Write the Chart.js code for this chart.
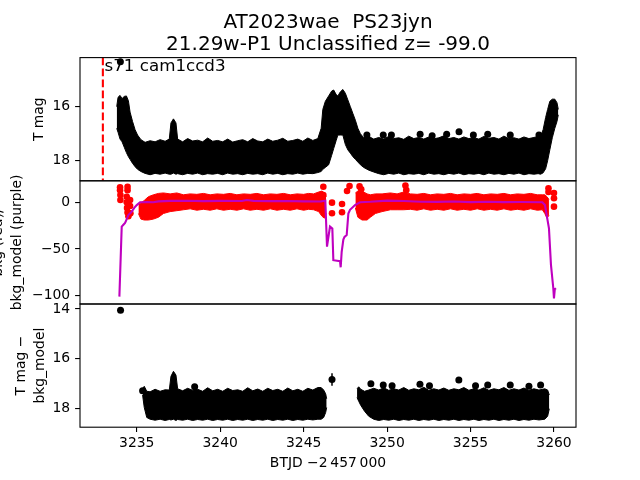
<!DOCTYPE html>
<html>
<head>
<meta charset="utf-8">
<script src="https://cdn.jsdelivr.net/npm/chart.js@4.4.1/dist/chart.umd.min.js"></script>
<style>
    html, body { margin: 0; padding: 0; background: #fff; }
    #wrap { position: relative; width: 640px; height: 480px; overflow: hidden; }
    canvas { position: absolute; left: 0; }
</style>
</head>
<body>
<div id="wrap">
    <canvas id="magChart" width="640" height="200" style="top:0; width:640px; height:200px"></canvas>
    <canvas id="bkgChart" width="640" height="164" style="top:160px; width:640px; height:164px"></canvas>
    <canvas id="subChart" width="640" height="196" style="top:284px; width:640px; height:196px"></canvas>
</div>
<script>
const titleLines = ["AT2023wae  PS23jyn", "21.29w-P1 Unclassified z= -99.0"];
const sectorLabel = "s71 cam1ccd3";
const markDay = 3232.97; // red dashed line, first data time

const xTicks = [3235, 3240, 3245, 3250, 3255, 3260];
const magTicks = [16, 18];
const bkgTicks = [-100, -50, 0];
const subTicks = [14, 16, 18];

// top panel: T mag, upper/lower edge of the black point cloud
const magDays = [3233.80, 3233.88, 3234.00, 3234.12, 3234.25, 3234.38, 3234.50, 3234.60, 3234.75, 3234.90,
    3235.05, 3235.25, 3235.50, 3235.80, 3236.10, 3236.40, 3236.70, 3236.95, 3237.05, 3237.20,
    3237.35, 3237.45, 3237.75, 3238.05, 3238.35, 3238.65, 3238.95, 3239.25, 3239.55, 3239.85,
    3240.15, 3240.45, 3240.75, 3241.05, 3241.35, 3241.65, 3241.95, 3242.25, 3242.55, 3242.85,
    3243.15, 3243.45, 3243.75, 3244.05, 3244.35, 3244.65, 3244.95, 3245.25, 3245.55, 3245.85,
    3246.05, 3246.15, 3246.30, 3246.50, 3246.68, 3246.80, 3246.95, 3247.05, 3247.20, 3247.35,
    3247.50, 3247.65, 3247.80, 3247.95, 3248.10, 3248.25, 3248.40, 3248.60, 3248.90, 3249.20,
    3249.50, 3249.80, 3250.10, 3250.40, 3250.70, 3251.00, 3251.30, 3251.60, 3251.90, 3252.20,
    3252.50, 3252.80, 3253.10, 3253.40, 3253.70, 3254.00, 3254.30, 3254.60, 3254.90, 3255.20,
    3255.50, 3255.80, 3256.10, 3256.40, 3256.70, 3257.00, 3257.30, 3257.60, 3257.90, 3258.20,
    3258.50, 3258.80, 3259.05, 3259.20, 3259.35, 3259.50, 3259.62, 3259.75, 3259.90, 3260.05,
    3260.18, 3260.26];
const magTop = [16.00, 15.65, 15.58, 15.70, 15.62, 15.60, 15.78, 16.20, 16.55, 16.85,
    17.05, 17.22, 17.32, 17.26, 17.30, 17.22, 17.28, 17.20, 16.60, 16.45,
    16.60, 17.20, 17.30, 17.18, 17.27, 17.24, 17.30, 17.16, 17.28, 17.25,
    17.30, 17.20, 17.31, 17.26, 17.22, 17.30, 17.18, 17.27, 17.30, 17.20,
    17.28, 17.24, 17.17, 17.28, 17.25, 17.20, 17.28, 17.16, 17.25, 17.18,
    16.80, 16.10, 15.80, 15.60, 15.42, 15.38, 15.55, 15.60, 15.45, 15.36,
    15.50, 15.75, 16.00, 16.25, 16.50, 16.80, 17.00, 17.15, 17.10, 17.20,
    17.14, 17.20, 17.10, 17.18, 17.15, 17.21, 17.09, 17.18, 17.14, 17.20,
    17.12, 17.19, 17.15, 17.08, 17.18, 17.14, 17.20, 17.12, 17.18, 17.15,
    17.20, 17.10, 17.17, 17.14, 17.20, 17.09, 17.18, 17.15, 17.20, 17.12,
    17.18, 17.14, 17.10, 17.10, 16.85, 16.40, 16.10, 15.80, 15.72, 15.72,
    15.85, 16.10];
const magBottom = [16.80, 16.95, 17.20, 17.30, 17.50, 17.70, 17.85, 17.95, 18.10, 18.22,
    18.32, 18.40, 18.47, 18.52, 18.47, 18.50, 18.46, 18.50, 18.50, 18.46,
    18.50, 18.48, 18.52, 18.47, 18.50, 18.46, 18.52, 18.48, 18.50, 18.47,
    18.52, 18.46, 18.50, 18.48, 18.52, 18.47, 18.50, 18.48, 18.52, 18.46,
    18.50, 18.47, 18.52, 18.48, 18.50, 18.46, 18.50, 18.47, 18.48, 18.44,
    18.40, 18.32, 18.25, 18.15, 17.80, 17.55, 17.25, 17.05, 17.05, 17.05,
    17.40, 17.60, 17.72, 17.85, 17.95, 18.05, 18.15, 18.25, 18.35, 18.42,
    18.48, 18.52, 18.47, 18.50, 18.46, 18.52, 18.48, 18.50, 18.47, 18.52,
    18.46, 18.50, 18.48, 18.52, 18.47, 18.50, 18.46, 18.52, 18.48, 18.50,
    18.47, 18.52, 18.46, 18.50, 18.48, 18.52, 18.47, 18.50, 18.46, 18.52,
    18.48, 18.50, 18.48, 18.50, 18.45, 18.30, 18.00, 17.60, 17.15, 16.80,
    16.55, 16.30];
const magDotDays = [3234.02, 3248.79, 3249.77, 3250.26, 3251.98, 3252.70, 3253.57, 3254.31, 3255.17, 3256.03, 3257.38, 3259.10];
const magDotVals = [14.33, 17.05, 17.05, 17.05, 17.02, 17.08, 17.02, 16.93, 17.05, 17.02, 17.05, 17.05];
const magDotErrs = [0.08, 0, 0, 0, 0, 0, 0, 0.08, 0, 0, 0, 0];

// middle panel: bkg points (red) and bkg model (purple)
const bkgDaysA = [3235.10, 3235.25, 3235.45, 3235.70, 3236.00, 3236.30, 3236.60, 3237.00, 3237.40, 3237.80,
    3238.20, 3238.60, 3239.00, 3239.40, 3239.80, 3240.20, 3240.60, 3241.00, 3241.40, 3241.80,
    3242.20, 3242.60, 3243.00, 3243.40, 3243.80, 3244.20, 3244.60, 3245.00, 3245.30, 3245.60,
    3245.90, 3246.10, 3246.25, 3246.35];
const bkgTopA = [-2, -1, 2, 6, 8, 9.5, 10, 9, 10, 8,
    9, 8.5, 9.5, 8, 9, 8.5, 9.5, 8, 9, 8.5,
    9.5, 8, 9, 8.5, 9.5, 8, 9, 8.5, 9.5, 9,
    11, 12, 10, 6];
const bkgBottomA = [-12, -18, -19, -19, -18, -16, -12, -10, -9, -8,
    -7, -8.5, -7.5, -8.5, -7, -8.5, -7.5, -8.5, -7, -8.5,
    -7.5, -8.5, -7, -8.5, -7.5, -8.5, -7, -8.5, -7.5, -8,
    -10, -15, -17, -12];
const bkgDaysB = [3248.10, 3248.25, 3248.50, 3248.80, 3249.00, 3249.30, 3249.70, 3250.20, 3250.60, 3251.00,
    3251.40, 3251.80, 3252.20, 3252.60, 3253.00, 3253.40, 3253.80, 3254.20, 3254.60, 3255.00,
    3255.40, 3255.80, 3256.20, 3256.60, 3257.00, 3257.40, 3257.80, 3258.20, 3258.60, 3259.00,
    3259.30, 3259.45, 3259.58, 3259.70];
const bkgTopB = [10, 12, 12, 9, 8, 9, 9, 10, 9, 11,
    9, 8.5, 9.5, 8, 9, 8.5, 9.5, 8, 9, 8.5,
    9.5, 8, 9, 8.5, 9.5, 8, 9, 8.5, 9.5, 8,
    8, 8, 6, 3];
const bkgBottomB = [-6, -16, -19, -19, -16, -12, -10, -8, -8, -8,
    -7.5, -8.5, -7, -8.5, -7.5, -8.5, -7, -8.5, -7.5, -8.5,
    -7, -8.5, -7.5, -8.5, -7, -8.5, -7.5, -8.5, -7, -8.5,
    -8, -12, -17, -14];
const bkgDotDays = [3234.00, 3234.00, 3234.02, 3234.02, 3234.45, 3234.45, 3234.40, 3234.40, 3234.42, 3234.45,
    3234.50, 3234.60, 3234.60, 3234.62, 3246.18, 3246.18, 3246.70, 3246.70, 3247.30, 3247.30,
    3247.60, 3247.75, 3248.35, 3248.45, 3251.10, 3251.15, 3259.67, 3259.67, 3260.00, 3260.00, 3260.00];
const bkgDotVals = [16, 13, 7.8, 2.5, 16.7, 13, 6, 0, -6, -11,
    -15, 2.5, -4, -11.8, 16.7, 7.8, -0.4, -11.8, -1.8, -10.7,
    12, 17.4, 17, 14, 18, 13, 15, 11, 10, 4.3, -4.7];
const modelDays = [3233.96, 3234.10, 3234.20, 3234.30, 3234.40, 3234.50, 3234.70, 3234.85, 3235.00, 3235.20,
    3235.60, 3236.00, 3236.30, 3237.00, 3238.00, 3239.00, 3240.00, 3241.30, 3241.60, 3242.00,
    3243.00, 3244.00, 3245.00, 3246.00, 3246.30, 3246.40, 3246.58, 3246.72, 3246.78, 3247.18,
    3247.22, 3247.28, 3247.38, 3247.45, 3247.58, 3247.68, 3247.78, 3248.08, 3248.38, 3249.00,
    3250.00, 3251.00, 3252.00, 3253.00, 3254.00, 3255.00, 3256.00, 3257.00, 3258.00, 3259.30,
    3259.46, 3259.70, 3259.82, 3259.96, 3260.00, 3260.05, 3260.12];
const modelVals = [-101, -26, -24, -22, -18, -13.6, -10, -6, -3, 0,
    0.3, 0, 1, 1.5, 1.7, 1.2, 1.5, 1.3, 2.5, 1.5,
    1.2, 1.4, 1, 0.8, 1.7, -47.5, -26, -28, -62, -63,
    -69.6, -53, -40, -37, -35, -12, -8, -3, 0, 0.5,
    1.8, 1.3, 0.6, 0.4, 0.8, 0.2, 0.5, 0.2, 0.3, 0,
    -3, -28, -67, -92, -103, -93, -92];

// bottom panel: T mag - bkg_model
const subDaysA = [3235.35, 3235.45, 3235.60, 3235.80, 3236.10, 3236.40, 3236.70, 3236.95, 3237.05, 3237.20,
    3237.35, 3237.45, 3237.75, 3238.05, 3238.35, 3238.65, 3238.95, 3239.25, 3239.55, 3239.85,
    3240.15, 3240.45, 3240.75, 3241.05, 3241.35, 3241.65, 3241.95, 3242.25, 3242.55, 3242.85,
    3243.15, 3243.45, 3243.75, 3244.05, 3244.35, 3244.65, 3244.95, 3245.25, 3245.55, 3245.85,
    3246.05, 3246.20, 3246.32, 3246.38];
const subTopA = [17.20, 17.10, 17.30, 17.32, 17.22, 17.30, 17.24, 17.25, 16.70, 16.50,
    16.65, 17.20, 17.28, 17.18, 17.26, 17.22, 17.30, 17.16, 17.28, 17.22,
    17.30, 17.18, 17.27, 17.24, 17.30, 17.16, 17.28, 17.21, 17.30, 17.18,
    17.27, 17.22, 17.30, 17.17, 17.28, 17.22, 17.30, 17.18, 17.25, 17.15,
    17.15, 17.25, 17.40, 17.60];
const subBottomA = [17.45, 17.95, 18.35, 18.42, 18.46, 18.42, 18.47, 18.43, 18.45, 18.42,
    18.47, 18.43, 18.46, 18.42, 18.47, 18.43, 18.46, 18.42, 18.47, 18.43,
    18.46, 18.42, 18.47, 18.43, 18.46, 18.42, 18.47, 18.43, 18.46, 18.42,
    18.47, 18.43, 18.46, 18.42, 18.47, 18.43, 18.46, 18.42, 18.45, 18.42,
    18.42, 18.35, 18.15, 17.95];
const subDaysB = [3248.20, 3248.30, 3248.42, 3248.65, 3248.90, 3249.20, 3249.50, 3249.80, 3250.10, 3250.40,
    3250.70, 3251.00, 3251.30, 3251.60, 3251.90, 3252.20, 3252.50, 3252.80, 3253.10, 3253.40,
    3253.70, 3254.00, 3254.30, 3254.60, 3254.90, 3255.20, 3255.50, 3255.80, 3256.10, 3256.40,
    3256.70, 3257.00, 3257.30, 3257.60, 3257.90, 3258.20, 3258.50, 3258.80, 3259.10, 3259.45,
    3259.62, 3259.72];
const subTopB = [17.20, 17.12, 17.22, 17.30, 17.25, 17.18, 17.25, 17.16, 17.26, 17.20,
    17.25, 17.15, 17.26, 17.20, 17.24, 17.14, 17.26, 17.20, 17.25, 17.17,
    17.26, 17.20, 17.24, 17.15, 17.26, 17.20, 17.25, 17.16, 17.26, 17.20,
    17.24, 17.15, 17.26, 17.20, 17.25, 17.17, 17.26, 17.20, 17.25, 17.20,
    17.25, 17.45];
const subBottomB = [17.55, 17.70, 17.86, 18.10, 18.30, 18.42, 18.47, 18.43, 18.46, 18.42,
    18.47, 18.43, 18.46, 18.42, 18.47, 18.43, 18.46, 18.42, 18.47, 18.43,
    18.46, 18.42, 18.47, 18.43, 18.46, 18.42, 18.47, 18.43, 18.46, 18.42,
    18.47, 18.43, 18.46, 18.42, 18.47, 18.43, 18.46, 18.42, 18.45, 18.42,
    18.30, 18.00];
const subDotDays = [3234.03, 3246.70, 3235.35, 3238.47, 3249.03, 3249.77, 3250.30, 3251.97, 3252.54, 3254.30,
    3255.30, 3256.03, 3257.38, 3258.50, 3259.20];
const subDotVals = [14.05, 16.83, 17.28, 17.12, 17.00, 17.05, 17.08, 17.02, 17.08, 16.85,
    17.08, 17.05, 17.05, 17.10, 17.05];
const subDotErrs = [0.05, 0.25, 0, 0, 0, 0, 0, 0, 0, 0, 0, 0, 0, 0, 0];

const X_MIN = 3231.60, X_MAX = 3261.32;
const PLOT_LEFT = 80, PLOT_RIGHT_PAD = 64;
const FONT = 13.9;
const MAG = "#bf00bf";

Chart.defaults.font.family = "'DejaVu Sans', sans-serif";
Chart.defaults.color = "#000";

function pts(xs, ys) {
    return xs.map((x, i) => ({ x: x, y: ys[i] }));
}

function minusLabel(v) {
    return v < 0 ? "\u2212" + Math.abs(v) : String(v);
}

const tickGrid = { display: true, drawOnChartArea: false, drawTicks: true, tickLength: 4.9, color: "#000", lineWidth: 1.1 };

function xAxis(show) {
    return {
        type: "linear", min: X_MIN, max: X_MAX, display: show,
        afterBuildTicks: s => { s.ticks = xTicks.map(v => ({ value: v })); },
        afterFit: s => { if (show) s.height = 52.8; },
        grid: tickGrid,
        border: { display: false },
        ticks: { font: { size: FONT }, padding: 3, maxRotation: 0, autoSkip: false, callback: v => String(v) },
        title: { display: show, text: "BTJD \u22122\u2009457\u2009000", font: { size: FONT }, padding: { top: 0, bottom: 8.7 } }
    };
}

function yAxis(min, max, reverse, ticks, title, pad) {
    return {
        type: "linear", min: min, max: max, reverse: reverse,
        afterBuildTicks: s => { s.ticks = ticks.map(v => ({ value: v })); },
        afterFit: s => { s.width = PLOT_LEFT; },
        grid: tickGrid,
        border: { display: false },
        ticks: { font: { size: FONT }, padding: 4.9, autoSkip: false, callback: minusLabel },
        title: { display: true, text: title, font: { size: FONT, lineHeight: 1.4 }, padding: { top: pad, bottom: 0 } }
    };
}

function band(xs, top, bottom, color) {
    return [
        { data: pts(xs, top), borderColor: color, borderWidth: 1, pointRadius: 0, fill: false, order: 3 },
        { data: pts(xs, bottom), borderColor: color, borderWidth: 1, pointRadius: 0, fill: "-1", backgroundColor: color, order: 3 }
    ];
}

function dots(xs, ys, color, r) {
    return { data: pts(xs, ys), showLine: false, pointRadius: r, pointBackgroundColor: color, pointBorderWidth: 0, order: 1 };
}

function errBars(xs, ys, errs) {
    const out = [];
    xs.forEach((x, i) => {
        if (errs[i] > 0) {
            out.push({ data: [{ x: x, y: ys[i] - errs[i] }, { x: x, y: ys[i] + errs[i] }],
                borderColor: "#000", borderWidth: 1.5, pointRadius: 0, order: 1 });
        }
    });
    return out;
}

const frame = {
    id: "frame",
    afterDatasetsDraw(chart) {
        const { ctx, chartArea: a } = chart;
        ctx.save();
        ctx.strokeStyle = "#000";
        ctx.lineWidth = 1.1;
        ctx.strokeRect(a.left, a.top, a.right - a.left, a.bottom - a.top);
        ctx.restore();
    }
};

const headerText = {
    id: "headerText",
    beforeDatasetsDraw(chart) {
        const ctx = chart.ctx;
        ctx.save();
        ctx.fillStyle = "#000";
        ctx.textBaseline = "alphabetic";
        ctx.textAlign = "center";
        ctx.font = "20px 'DejaVu Sans'";
        ctx.fillText(titleLines[0], 328, 27.5);
        ctx.fillText(titleLines[1], 328, 50);
        ctx.textAlign = "left";
        ctx.font = "16.7px 'DejaVu Sans'";
        ctx.fillText(sectorLabel, 104.5, 70.5);
        ctx.restore();
    }
};

function baseOptions(pad, xs, ys) {
    return {
        responsive: false, animation: false, devicePixelRatio: 1, events: [],
        layout: { padding: { left: 0, right: PLOT_RIGHT_PAD, top: pad[0], bottom: pad[1] } },
        plugins: { legend: { display: false }, tooltip: { enabled: false } },
        scales: { x: xs, y: ys }
    };
}

document.addEventListener("DOMContentLoaded", function () {
    // top panel: chart area 57.6 .. 180.8
    const magSets = band(magDays, magTop, magBottom, "#000")
        .concat([dots(magDotDays, magDotVals, "#000", 3.5)])
        .concat(errBars(magDotDays, magDotVals, magDotErrs))
        .concat([{ data: [{ x: markDay, y: 14.18 }, { x: markDay, y: 18.745 }], borderColor: "#ff0000",
            borderWidth: 2.1, borderDash: [7.7, 3.3], pointRadius: 0, order: 0 }]);
    new Chart(document.getElementById("magChart"), {
        type: "line",
        data: { datasets: magSets },
        options: baseOptions([57.6, 19.2], xAxis(false), yAxis(14.18, 18.745, true, magTicks, "T mag", 29.3)),
        plugins: [frame, headerText]
    });

    // middle panel: chart area 180.8 .. 304
    const bkgSets = band(bkgDaysA, bkgTopA, bkgBottomA, "#ff0000")
        .concat(band(bkgDaysB, bkgTopB, bkgBottomB, "#ff0000"))
        .concat([dots(bkgDotDays, bkgDotVals, "#ff0000", 3.3)])
        .concat([{ data: pts(modelDays, modelVals), borderColor: MAG, borderWidth: 2.1, pointRadius: 0, order: 0 }]);
    new Chart(document.getElementById("bkgChart"), {
        type: "line",
        data: { datasets: bkgSets },
        options: baseOptions([20.8, 20], xAxis(false),
            yAxis(-108.9, 23, false, bkgTicks, ["bkg (red)/", "bkg_model (purple)"], -11.5)),
        plugins: [frame]
    });

    // bottom panel: chart area 304 .. 427.2
    const subSets = band(subDaysA, subTopA, subBottomA, "#000")
        .concat(band(subDaysB, subTopB, subBottomB, "#000"))
        .concat([dots(subDotDays, subDotVals, "#000", 3.5)])
        .concat(errBars(subDotDays, subDotVals, subDotErrs));
    new Chart(document.getElementById("subChart"), {
        type: "line",
        data: { datasets: subSets },
        options: baseOptions([20, 0], xAxis(true),
            yAxis(13.8, 18.74, true, subTicks, ["T mag \u2212", "bkg_model"], 11.3)),
        plugins: [frame]
    });
});
</script>
</body>
</html>
